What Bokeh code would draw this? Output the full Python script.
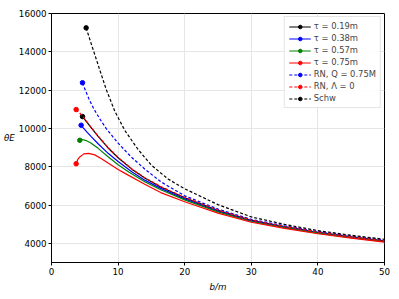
from bokeh.plotting import figure
from bokeh.models import Range1d, FixedTicker, Legend
from bokeh.embed import file_html
from bokeh.resources import INLINE

# ---- data ----
b_t019 = [4.65, 5.1, 5.86, 7, 8.5, 10, 12.1, 14, 16.4, 20, 25, 30, 35, 40, 45, 50]
th_t019 = [10618, 10420, 10080, 9580, 8980, 8470, 7860, 7410, 6940, 6380, 5720, 5200, 4870, 4580, 4340, 4125]

b_t038 = [4.45, 4.8, 5.3, 6, 7, 8.5, 10, 12.1, 14, 16.4, 20, 25, 30, 35, 40, 45, 50]
th_t038 = [10167, 10020, 9820, 9560, 9200, 8700, 8270, 7730, 7300, 6870, 6320, 5680, 5170, 4850, 4560, 4320, 4110]

b_t057 = [4.25, 4.6, 5.1, 5.86, 7, 8.5, 10, 11.6, 14, 16.4, 20, 25, 30, 35, 40, 45, 50]
th_t057 = [9380, 9420, 9380, 9250, 8960, 8520, 8100, 7720, 7220, 6800, 6270, 5640, 5140, 4820, 4535, 4300, 4090]

b_t075 = [3.7, 3.95, 4.25, 4.85, 5.6, 6.5, 7.5, 8.5, 10, 11.1, 14, 16.4, 20, 25, 30, 35, 40, 45, 50]
th_t075 = [8155, 8380, 8510, 8670, 8700, 8620, 8420, 8190, 7860, 7640, 7090, 6650, 6170, 5575, 5100, 4780, 4500, 4270, 4068]

b_rnq = [4.65, 5.1, 5.6, 6.35, 7.4, 8.2, 10, 12, 14, 16.4, 20, 25, 30, 35, 40, 45, 50]
th_rnq = [12384, 11980, 11560, 11020, 10420, 10000, 9230, 8500, 7880, 7220, 6480, 5790, 5250, 4920, 4620, 4380, 4175]

b_rn0 = [3.7, 4.2, 4.65, 5.1, 5.86, 7, 8.5, 10, 12.1, 14, 16.4, 20, 25, 30, 35, 40, 45, 50]
th_rn0 = [10985, 10820, 10650, 10450, 10100, 9600, 9000, 8490, 7880, 7430, 6965, 6400, 5735, 5210, 4880, 4590, 4350, 4130]

b_schw = [5.2, 5.8, 6.5, 7.3, 8.2, 9.5, 11, 13, 15, 17.5, 20, 25, 30, 35, 40, 45, 50]
th_schw = [15250, 14600, 13850, 13000, 12050, 10900, 9900, 8900, 8080, 7360, 6850, 6020, 5380, 4990, 4665, 4420, 4215]

x_ticks = [0, 10, 20, 30, 40, 50]
y_ticks = [4000, 6000, 8000, 10000, 12000, 14000, 16000]

series = [
    ("τ = 0.19m", b_t019, th_t019, "black", "solid"),
    ("τ = 0.38m", b_t038, th_t038, "blue", "solid"),
    ("τ = 0.57m", b_t057, th_t057, "green", "solid"),
    ("τ = 0.75m", b_t075, th_t075, "red", "solid"),
    ("RN, Q = 0.75M", b_rnq, th_rnq, "blue", "3 2"),
    ("RN, Λ = 0", b_rn0, th_rn0, "red", "3 2"),
    ("Schw", b_schw, th_schw, "black", "3 2"),
]

FONT = "DejaVu Sans"
FS = "8.7px"

p = figure(width=399, height=299, x_range=Range1d(0, 50), y_range=Range1d(3000, 16000),
           output_backend="svg", toolbar_location=None,
           min_border_left=51, min_border_right=15, min_border_top=13, min_border_bottom=37)

p.background_fill_color = "white"
p.outline_line_color = "black"
p.outline_line_width = 1

legend_items = []
for name, bx, ty, col, dash in series:
    r1 = p.line(bx, ty, line_color=col, line_width=1.2, line_dash=dash)
    r2 = p.scatter(bx[:1], ty[:1], size=4.5, fill_color=col, line_color=col, marker="circle")
    legend_items.append((name, [r1, r2]))

legend = Legend(items=legend_items, location="top_right")
legend.label_text_font = FONT
legend.label_text_font_size = "8.4px"
legend.label_height = 9
legend.glyph_height = 9
legend.glyph_width = 22
legend.spacing = 2
legend.padding = 4
legend.margin = 3
legend.label_standoff = 3
legend.border_line_color = "#cccccc"
legend.border_line_width = 1
legend.background_fill_alpha = 0.85
p.add_layout(legend)

for ax in (p.xaxis[0], p.yaxis[0]):
    ax.major_label_text_font = FONT
    ax.major_label_text_font_size = FS
    ax.major_label_text_color = "black"
    ax.axis_line_color = "black"
    ax.major_tick_line_color = "black"
    ax.major_tick_out = 3
    ax.major_tick_in = 0
    ax.minor_tick_line_color = None
    ax.major_label_standoff = 2
    ax.axis_label_text_font = FONT
    ax.axis_label_text_font_size = FS
    ax.axis_label_text_font_style = "italic"
    ax.axis_label_text_color = "black"

p.xaxis[0].ticker = FixedTicker(ticks=x_ticks)
p.yaxis[0].ticker = FixedTicker(ticks=y_ticks)
p.xaxis[0].axis_label = "b/m"
p.xaxis[0].axis_label_standoff = 4

# y axis label "θE", horizontal, left of the tick labels
p.yaxis[0].axis_label = "θE"
p.yaxis[0].axis_label_standoff = 1
try:
    p.yaxis[0].axis_label_orientation = "horizontal"
except Exception:
    pass

p.xgrid.ticker = FixedTicker(ticks=x_ticks)
p.ygrid.ticker = FixedTicker(ticks=y_ticks)
p.grid.grid_line_color = "#e6e6e6"
p.grid.grid_line_width = 1

open("out.html", "w").write(file_html(p, INLINE))
